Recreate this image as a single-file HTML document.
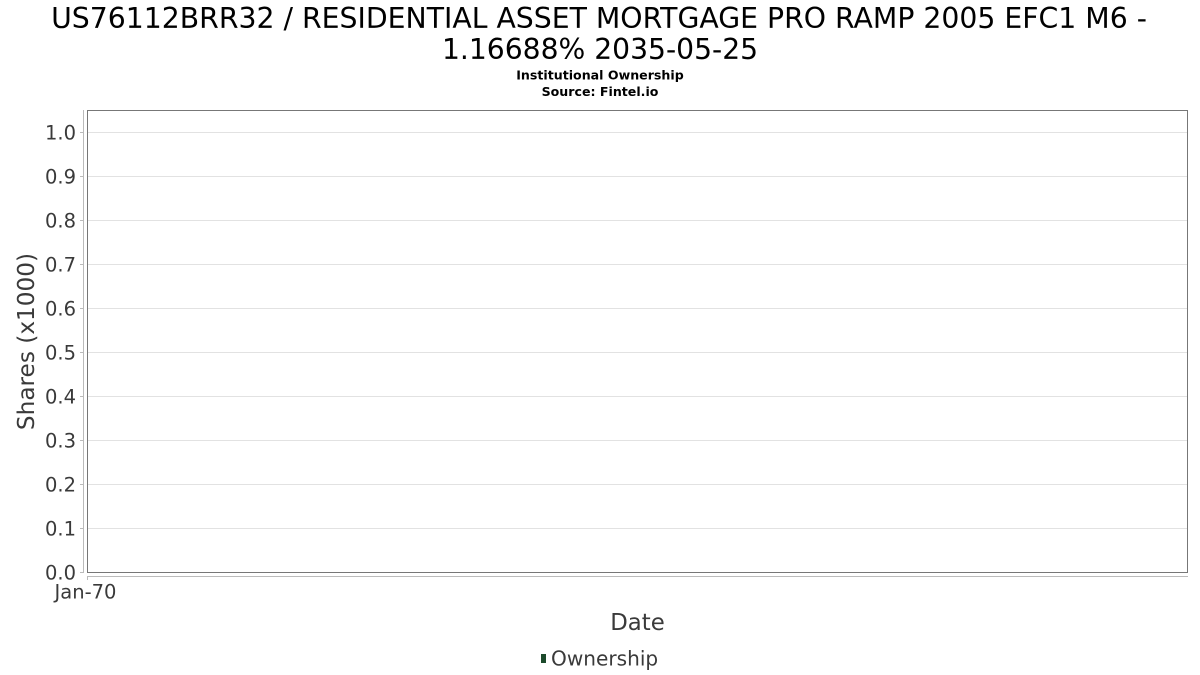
<!DOCTYPE html>
<html><head><meta charset="utf-8"><style>
html,body{margin:0;padding:0;background:#fff;}
svg{display:block;}
text{font-family:"DejaVu Sans","Liberation Sans",sans-serif;}
</style></head><body>
<svg width="1200" height="675" viewBox="0 0 1200 675" xmlns="http://www.w3.org/2000/svg">
<rect width="1200" height="675" fill="#fff"/>
<text x="599" y="28" font-size="28.3" text-anchor="middle" fill="#000">US76112BRR32 / RESIDENTIAL ASSET MORTGAGE PRO RAMP 2005 EFC1 M6 -</text>
<text x="600" y="59" font-size="28.2" text-anchor="middle" fill="#000">1.16688% 2035-05-25</text>
<text x="600" y="79.5" font-size="12.6" font-weight="bold" text-anchor="middle" fill="#000">Institutional Ownership</text>
<text x="600" y="96" font-size="12.6" font-weight="bold" text-anchor="middle" fill="#000">Source: Fintel.io</text>
<g stroke="#e2e2e2" stroke-width="1">
<line x1="88" y1="132.5" x2="1188" y2="132.5"/>
<line x1="88" y1="176.5" x2="1188" y2="176.5"/>
<line x1="88" y1="220.5" x2="1188" y2="220.5"/>
<line x1="88" y1="264.5" x2="1188" y2="264.5"/>
<line x1="88" y1="308.5" x2="1188" y2="308.5"/>
<line x1="88" y1="352.5" x2="1188" y2="352.5"/>
<line x1="88" y1="396.5" x2="1188" y2="396.5"/>
<line x1="88" y1="440.5" x2="1188" y2="440.5"/>
<line x1="88" y1="484.5" x2="1188" y2="484.5"/>
<line x1="88" y1="528.5" x2="1188" y2="528.5"/>
</g>
<rect x="87.5" y="110.5" width="1100" height="462" fill="none" stroke="#777" stroke-width="1"/>
<g stroke="#bbb" stroke-width="1">
<line x1="83.5" y1="110" x2="83.5" y2="573"/>
<line x1="87" y1="576.5" x2="1188" y2="576.5"/>
<line x1="87.5" y1="576" x2="87.5" y2="580"/>
<line x1="80" y1="132.5" x2="84" y2="132.5"/>
<line x1="80" y1="176.5" x2="84" y2="176.5"/>
<line x1="80" y1="220.5" x2="84" y2="220.5"/>
<line x1="80" y1="264.5" x2="84" y2="264.5"/>
<line x1="80" y1="308.5" x2="84" y2="308.5"/>
<line x1="80" y1="352.5" x2="84" y2="352.5"/>
<line x1="80" y1="396.5" x2="84" y2="396.5"/>
<line x1="80" y1="440.5" x2="84" y2="440.5"/>
<line x1="80" y1="484.5" x2="84" y2="484.5"/>
<line x1="80" y1="528.5" x2="84" y2="528.5"/>
<line x1="80" y1="572.5" x2="84" y2="572.5"/>
</g>
<g font-size="19.5" fill="#3a3a3a" text-anchor="end">
<text x="76" y="139.5">1.0</text>
<text x="76" y="183.5">0.9</text>
<text x="76" y="227.5">0.8</text>
<text x="76" y="271.5">0.7</text>
<text x="76" y="315.5">0.6</text>
<text x="76" y="359.5">0.5</text>
<text x="76" y="403.5">0.4</text>
<text x="76" y="447.5">0.3</text>
<text x="76" y="491.5">0.2</text>
<text x="76" y="535.5">0.1</text>
<text x="76" y="579.5">0.0</text>
</g>
<text x="85.5" y="598.5" font-size="19.5" fill="#3a3a3a" text-anchor="middle">Jan-70</text>
<text x="637.5" y="630" font-size="22.8" fill="#3a3a3a" text-anchor="middle">Date</text>
<text transform="translate(34,341.5) rotate(-90)" font-size="23.2" fill="#3a3a3a" text-anchor="middle">Shares (x1000)</text>
<rect x="541" y="654" width="5" height="9" fill="#1c4a2b"/>
<text x="551" y="665.5" font-size="20.1" fill="#3a3a3a">Ownership</text>
</svg>
</body></html>
